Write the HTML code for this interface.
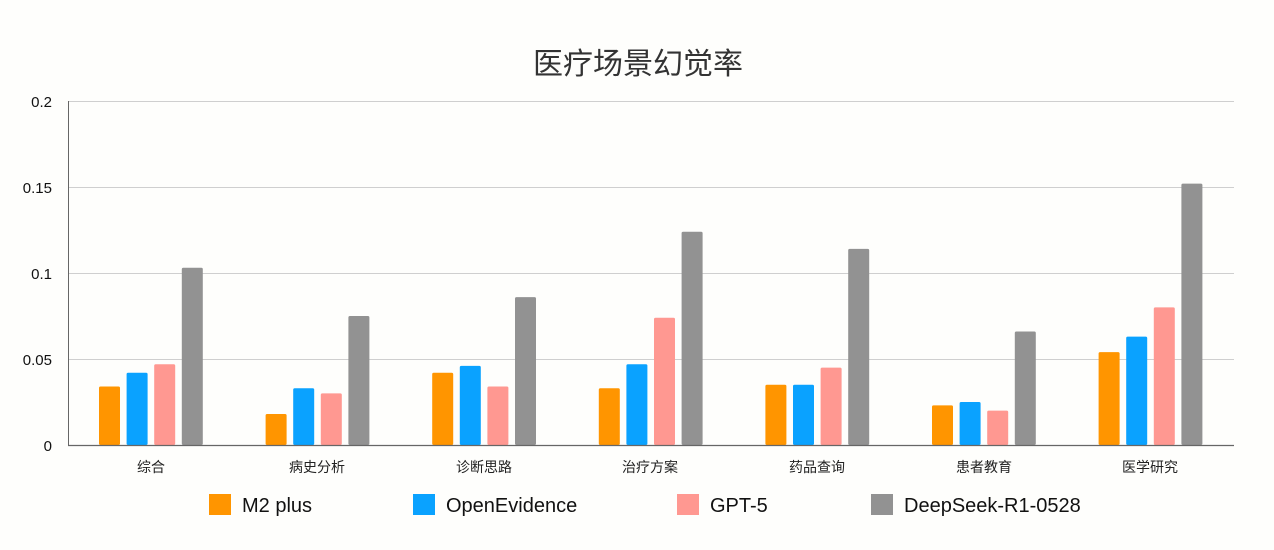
<!DOCTYPE html><html><head><meta charset="utf-8"><style>body{margin:0;background:#fefefc}svg{display:block}text{font-family:"Liberation Sans","Noto Sans CJK SC",sans-serif}</style></head><body>
<svg width="1274" height="550" xmlns="http://www.w3.org/2000/svg">
<rect width="1274" height="550" fill="#fefefc"/>
<text x="638" y="74" font-size="30" text-anchor="middle" fill="#333" font-weight="normal">医疗场景幻觉率</text>
<g stroke="#cfcfcf" stroke-width="1">
<line x1="68" y1="101.5" x2="1234" y2="101.5"/><line x1="68" y1="187.5" x2="1234" y2="187.5"/><line x1="68" y1="273.5" x2="1234" y2="273.5"/><line x1="68" y1="359.5" x2="1234" y2="359.5"/></g>
<g font-size="15" fill="#111" text-anchor="end">
<text x="52" y="107">0.2</text><text x="52" y="193">0.15</text><text x="52" y="279">0.1</text><text x="52" y="365">0.05</text><text x="52" y="451">0</text></g>
<g id="bars">
<g transform="translate(99,0)"><rect x="0" y="386.5" width="21" height="58.5" rx="1.5" fill="#ff9500"/><rect x="27.6" y="372.8" width="21" height="72.2" rx="1.5" fill="#0aa2ff"/><rect x="55.2" y="364.2" width="21" height="80.8" rx="1.5" fill="#ff9891"/><rect x="82.8" y="267.8" width="21" height="177.2" rx="1.5" fill="#929292"/></g>
<g transform="translate(265.6,0)"><rect x="0" y="414" width="21" height="31" rx="1.5" fill="#ff9500"/><rect x="27.6" y="388.2" width="21" height="56.8" rx="1.5" fill="#0aa2ff"/><rect x="55.2" y="393.4" width="21" height="51.6" rx="1.5" fill="#ff9891"/><rect x="82.8" y="316" width="21" height="129" rx="1.5" fill="#929292"/></g>
<g transform="translate(432.2,0)"><rect x="0" y="372.8" width="21" height="72.2" rx="1.5" fill="#ff9500"/><rect x="27.6" y="365.9" width="21" height="79.1" rx="1.5" fill="#0aa2ff"/><rect x="55.2" y="386.5" width="21" height="58.5" rx="1.5" fill="#ff9891"/><rect x="82.8" y="297.1" width="21" height="147.9" rx="1.5" fill="#929292"/></g>
<g transform="translate(598.8,0)"><rect x="0" y="388.2" width="21" height="56.8" rx="1.5" fill="#ff9500"/><rect x="27.6" y="364.2" width="21" height="80.8" rx="1.5" fill="#0aa2ff"/><rect x="55.2" y="317.7" width="21" height="127.3" rx="1.5" fill="#ff9891"/><rect x="82.8" y="231.7" width="21" height="213.3" rx="1.5" fill="#929292"/></g>
<g transform="translate(765.4,0)"><rect x="0" y="384.8" width="21" height="60.2" rx="1.5" fill="#ff9500"/><rect x="27.6" y="384.8" width="21" height="60.2" rx="1.5" fill="#0aa2ff"/><rect x="55.2" y="367.6" width="21" height="77.4" rx="1.5" fill="#ff9891"/><rect x="82.8" y="248.9" width="21" height="196.1" rx="1.5" fill="#929292"/></g>
<g transform="translate(932,0)"><rect x="0" y="405.4" width="21" height="39.6" rx="1.5" fill="#ff9500"/><rect x="27.6" y="402" width="21" height="43" rx="1.5" fill="#0aa2ff"/><rect x="55.2" y="410.6" width="21" height="34.4" rx="1.5" fill="#ff9891"/><rect x="82.8" y="331.5" width="21" height="113.5" rx="1.5" fill="#929292"/></g>
<g transform="translate(1098.6,0)"><rect x="0" y="352.1" width="21" height="92.9" rx="1.5" fill="#ff9500"/><rect x="27.6" y="336.6" width="21" height="108.4" rx="1.5" fill="#0aa2ff"/><rect x="55.2" y="307.4" width="21" height="137.6" rx="1.5" fill="#ff9891"/><rect x="82.8" y="183.6" width="21" height="261.4" rx="1.5" fill="#929292"/></g>
</g>
<line x1="68.5" y1="101" x2="68.5" y2="445.5" stroke="#666" stroke-width="1"/>
<line x1="68" y1="445.5" x2="1234" y2="445.5" stroke="#666" stroke-width="1.2"/>
<g font-size="14" fill="#222" text-anchor="middle">
<text x="151" y="472">综合</text><text x="317" y="472">病史分析</text><text x="484" y="472">诊断思路</text><text x="650" y="472">治疗方案</text><text x="817" y="472">药品查询</text><text x="984" y="472">患者教育</text><text x="1150" y="472">医学研究</text></g>
<g font-size="20" fill="#111">
<rect x="209" y="494" width="22" height="21" fill="#ff9500"/><text x="242" y="512">M2 plus</text>
<rect x="413" y="494" width="22" height="21" fill="#0aa2ff"/><text x="446" y="512">OpenEvidence</text>
<rect x="677" y="494" width="22" height="21" fill="#ff9891"/><text x="710" y="512">GPT-5</text>
<rect x="871" y="494" width="22" height="21" fill="#929292"/><text x="904" y="512">DeepSeek-R1-0528</text>
</g>
</svg></body></html>
